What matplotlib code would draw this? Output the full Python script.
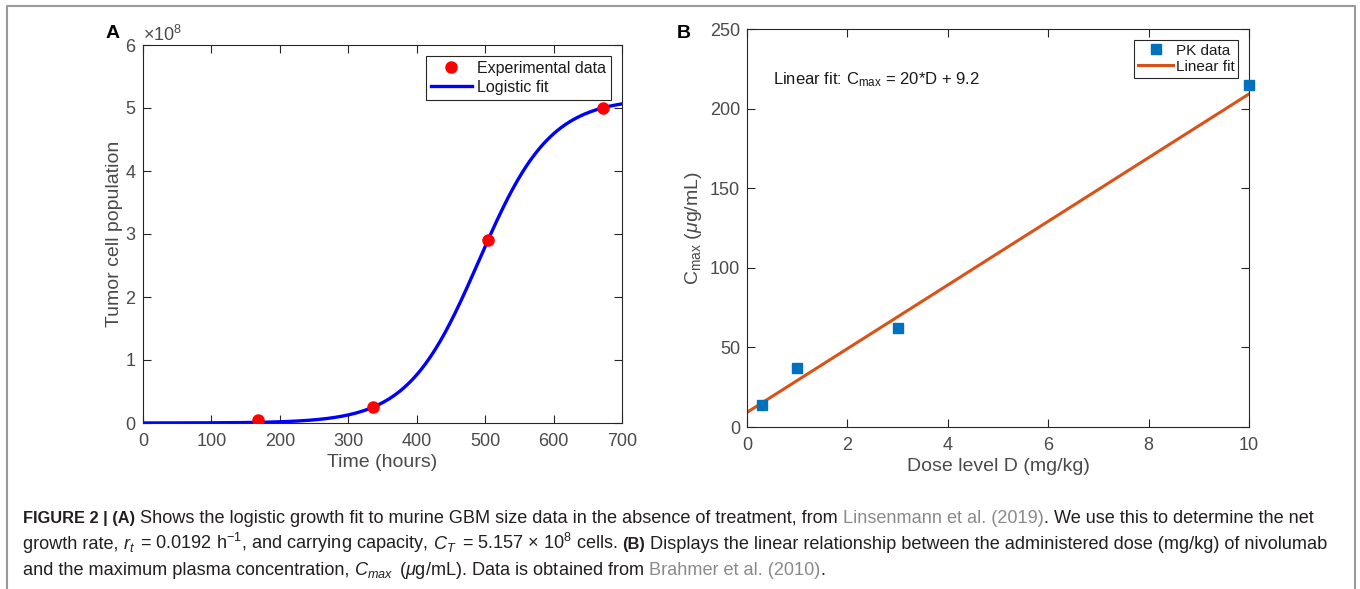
import matplotlib
matplotlib.use("Agg")
import matplotlib.pyplot as plt
from matplotlib.ticker import ScalarFormatter
from matplotlib.lines import Line2D
import numpy as np

plt.rcParams['font.family'] = ['Liberation Sans', 'DejaVu Sans']
plt.rcParams['mathtext.fontset'] = 'custom'
plt.rcParams['mathtext.rm'] = 'Liberation Sans'
plt.rcParams['mathtext.it'] = 'Liberation Sans:italic'
plt.rcParams['mathtext.bf'] = 'Liberation Sans:bold'

# Panel A: tumour growth data and logistic fit
time_h = [168, 336, 504, 672]
cells = [0.05e8, 0.25e8, 2.9e8, 5.0e8]
r_t = 0.0192          # net growth rate (1/h)
C_T = 5.157e8         # carrying capacity
t_mid = 491.0         # inflection time

# Panel B: PK data and linear fit
dose = [0.3, 1, 3, 10]
cmax = [14, 37, 62, 215]
fit_slope = 20.0
fit_icpt = 9.2

GRAY = '#4a4a4a'
AXC = '#262626'

fig = plt.figure(figsize=(13.6, 5.89), dpi=100)


def style_axes(ax):
    for s in ax.spines.values():
        s.set_color(AXC)
        s.set_linewidth(0.8)
    ax.tick_params(direction='in', top=True, right=True, length=5.5,
                   width=0.8, color=AXC, labelcolor=GRAY, labelsize=13)
    ax.tick_params(axis='x', pad=7)
    ax.tick_params(axis='y', pad=5)


# ---- Panel A
axA = fig.add_axes([143/1360, 1-423/589, 479/1360, 378/589])
tt = np.linspace(0, 700, 400)
axA.plot(tt, C_T/(1+np.exp(-r_t*(tt-t_mid))), color='#0000ff', lw=2.4,
         label='Logistic fit', zorder=2)
axA.plot(time_h, cells, 'o', color='#ff0000', ms=8, label='Experimental data',
         zorder=3)
axA.set_xlim(0, 700)
axA.set_ylim(0, 6e8)
axA.set_xticks(range(0, 701, 100))
axA.set_yticks(np.arange(0, 6.01e8, 1e8))
fmt = ScalarFormatter(useMathText=True)
fmt.set_powerlimits((0, 0))
axA.yaxis.set_major_formatter(fmt)
axA.yaxis.get_offset_text().set_color(GRAY)
axA.yaxis.get_offset_text().set_fontsize(13)
style_axes(axA)
axA.set_xlabel('Time (hours)', fontsize=14, color=GRAY, labelpad=3)
axA.set_ylabel('Tumor cell population', fontsize=14, color=GRAY, labelpad=1)
h, l = axA.get_legend_handles_labels()
legA = axA.legend(h[::-1], l[::-1], loc='upper right', fontsize=11.5,
                  fancybox=False, edgecolor=AXC, framealpha=1,
                  borderpad=0.3, handlelength=2.6, handletextpad=0.3,
                  labelspacing=0.25, borderaxespad=0.7)
legA.get_frame().set_linewidth(0.8)
for t in legA.get_texts():
    t.set_color('#1a1a1a')
fig.text(113/1360, 1-33/589, 'A', fontsize=14, fontweight='bold',
         ha='center', va='center')

# ---- Panel B
axB = fig.add_axes([747/1360, 1-427/589, 502/1360, 398/589])
dd = np.array([0, 10])
axB.plot(dd, fit_slope*dd+fit_icpt, color='#d95319', lw=2.2, label='Linear fit',
         zorder=2)
axB.plot(dose, cmax, 's', color='#0072bd', ms=7.5, label='PK data', zorder=3,
         clip_on=False)
axB.set_xlim(0, 10)
axB.set_ylim(0, 250)
axB.set_xticks(range(0, 11, 2))
axB.set_yticks(range(0, 251, 50))
style_axes(axB)
axB.set_xlabel('Dose level D (mg/kg)', fontsize=14, color=GRAY, labelpad=3)
axB.set_ylabel(r'C$_{\rm max}$ ($\mu$g/mL)', fontsize=14, color=GRAY,
               labelpad=4)
axB.text(0.52, 218, r'Linear fit: C$_{\rm max}$ = 20*D + 9.2', fontsize=12,
         color='#1a1a1a', va='center')
h, l = axB.get_legend_handles_labels()
legB = axB.legend(h[::-1], l[::-1], loc='upper right', fontsize=11,
                  fancybox=False, edgecolor=AXC, framealpha=1,
                  borderpad=0.25, handlelength=2.3, handletextpad=0.15,
                  labelspacing=0.15, borderaxespad=0.7)
legB.get_frame().set_linewidth(0.8)
for t in legB.get_texts():
    t.set_color('#1a1a1a')
fig.text(684/1360, 1-33/589, 'B', fontsize=14, fontweight='bold',
         ha='center', va='center')

# ---- outer frame (open at the bottom)
fx0, fx1, fy1 = 7/1360, 1355/1360, 1-6/589
fig.add_artist(Line2D([fx0, fx0, fx1, fx1], [-0.1, fy1, fy1, -0.1],
                      transform=fig.transFigure, color='#9a9a9a', lw=1.5))

# ---- caption
CAP = '#231f20'
LINK = '#8a8a8a'
cap_lines = [
    [('FIGURE 2 | (A)', 'b', CAP),
     (' Shows the logistic growth fit to murine GBM size data in the absence of treatment, from ', 'n', CAP),
     ('Linsenmann et al. (2019)', 'n', LINK),
     ('. We use this to determine the net', 'n', CAP)],
    [('growth rate, ', 'n', CAP),
     (r'$r_t$', 'n', CAP),
     (r' = 0.0192 h$^{-1}$, and carrying capacity, ', 'n', CAP),
     (r'$C_T$', 'n', CAP),
     (r' = 5.157 $\times$ 10$^8$ cells. ', 'n', CAP),
     ('(B)', 'b', CAP),
     (' Displays the linear relationship between the administered dose (mg/kg) of nivolumab', 'n', CAP)],
    [('and the maximum plasma concentration, ', 'n', CAP),
     (r'$C_{max}$', 'n', CAP),
     (r' ($\mu$g/mL). Data is obtained from ', 'n', CAP),
     ('Brahmer et al. (2010)', 'n', LINK),
     ('.', 'n', CAP)],
]
cap_y = [523, 549, 575]
size = {'b': 11.8, 'n': 10.6}

renderer = fig.canvas.get_renderer()


def text_w(s, wt):
    t = fig.text(0, 0, s, fontsize=size[wt],
                 fontweight='bold' if wt == 'b' else 'normal')
    w = t.get_window_extent(renderer).width
    t.remove()
    return w


# scale the regular caption face so line 1 spans the same width as the reference
bold_end = 23 + text_w('FIGURE 2 | (A)', 'b')
reg1 = ''.join(s for s, wt, c in cap_lines[0] if wt == 'n').strip()
size['n'] = 10.6 * (1322 - bold_end - 4) / text_w(reg1, 'n')

space_w = {wt: text_w('a a', wt) - text_w('aa', wt) for wt in ('n', 'b')}

for runs, yp in zip(cap_lines, cap_y):
    xpix = 23
    for s, wt, col in runs:
        lead = len(s) - len(s.lstrip(' '))
        trail = len(s) - len(s.rstrip(' '))
        core = s.strip(' ')
        xpix += lead*space_w[wt]
        t = fig.text(xpix/1360, 1-yp/589, core, fontsize=size[wt],
                     fontweight='bold' if wt == 'b' else 'normal',
                     color=col, va='baseline')
        xpix += t.get_window_extent(renderer).width + trail*space_w[wt]

fig.savefig('out.png', dpi=100)
